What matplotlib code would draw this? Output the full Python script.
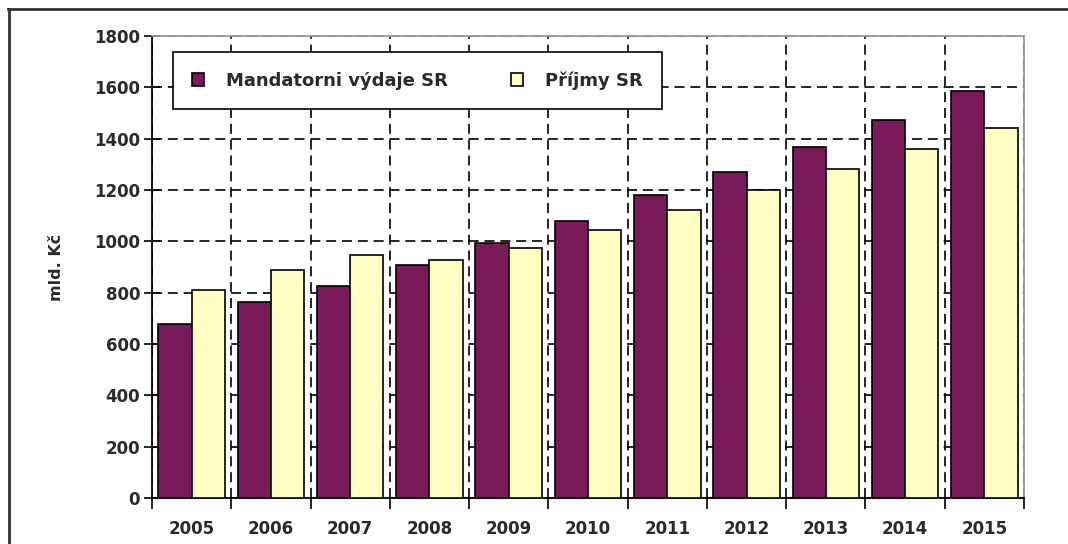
import matplotlib.pyplot as plt
from matplotlib.lines import Line2D
import numpy as np

# values (mld. Kc)
YEARS = ['2005', '2006', '2007', '2008', '2009', '2010',
         '2011', '2012', '2013', '2014', '2015']
MANDATORNI = [679, 765, 827, 906, 993, 1078, 1179, 1272, 1366, 1473, 1584]
PRIJMY = [812, 889, 945, 928, 974, 1045, 1123, 1201, 1281, 1359, 1443]
Y_TICKS = [0, 200, 400, 600, 800, 1000, 1200, 1400, 1600, 1800]

MAROON = '#7B1A5A'
LIGHT_YELLOW = '#FFFFC4'
TEXT = '#2a2a2a'


def bar_chart():
    """
    grouped bars of mandatory expenditure vs. revenue
    """
    plt.rcParams['font.family'] = ['DejaVu Sans']
    fig = plt.figure(figsize=(10.68, 5.44), dpi=100)
    ax = fig.add_axes([152 / 1068, 1 - 498 / 544, 872 / 1068, 462 / 544])

    x = np.arange(len(YEARS))
    w = 0.42
    ax.bar(x - w / 2, MANDATORNI, w, color=MAROON, edgecolor='black',
           linewidth=1.2, label='Mandatorni výdaje SR', zorder=3)
    ax.bar(x + w / 2, PRIJMY, w, color=LIGHT_YELLOW, edgecolor='black',
           linewidth=1.2, label='Příjmy SR', zorder=3)

    ax.set_xlim(-0.5, len(YEARS) - 0.5)
    ax.set_ylim(0, 1800)

    # category labels in the middle, ticks + grid on the boundaries
    ax.set_xticks(x)
    ax.set_xticklabels(YEARS, fontsize=12, fontweight='bold', color=TEXT)
    ax.tick_params(axis='x', which='major', length=0, pad=16)
    ax.set_xticks(np.arange(len(YEARS) + 1) - 0.5, minor=True)
    ax.tick_params(axis='x', which='minor', direction='out', length=8,
                   width=1.2)

    ax.set_yticks(Y_TICKS)
    ax.set_yticklabels([str(t) for t in Y_TICKS], fontsize=12,
                       fontweight='bold', color=TEXT)
    ax.tick_params(axis='y', direction='inout', length=11, width=1.2, pad=3)

    ax.grid(axis='y', which='major', color='black', linestyle=(0, (6, 3.5)),
            linewidth=1.2, zorder=1)
    ax.grid(axis='x', which='minor', color='black', linestyle=(0, (6, 3.5)),
            linewidth=1.2, zorder=1)
    ax.set_axisbelow(True)

    for side in ['left', 'bottom']:
        ax.spines[side].set_color('black')
        ax.spines[side].set_linewidth(1.3)
    for side in ['top', 'right']:
        ax.spines[side].set_color('#999999')
        ax.spines[side].set_linewidth(1.3)

    ax.set_ylabel('mld. Kč', fontsize=11.5, fontweight='bold', color=TEXT,
                  labelpad=22)

    leg = ax.legend(ncol=2, loc='upper left',
                    bbox_to_anchor=(0.024, 0.965), borderaxespad=0,
                    fancybox=False, framealpha=1, edgecolor='black',
                    borderpad=1.05, handlelength=0.68, handleheight=0.68,
                    handletextpad=1.2, columnspacing=3.5,
                    prop={'size': 13, 'weight': 'bold'})
    leg.get_frame().set_linewidth(1.2)
    for t in leg.get_texts():
        t.set_color(TEXT)
    leg.set_zorder(5)

    # outer frame of the picture (only top and left edges are visible)
    fig.add_artist(Line2D([8 / 1068, 1], [1 - 8.5 / 544, 1 - 8.5 / 544],
                          color='#333333', linewidth=2))
    fig.add_artist(Line2D([8.5 / 1068, 8.5 / 1068], [0, 1 - 8.5 / 544],
                          color='#333333', linewidth=2))

    fig.savefig('out.png', dpi=100)


if __name__ == '__main__':
    bar_chart()
